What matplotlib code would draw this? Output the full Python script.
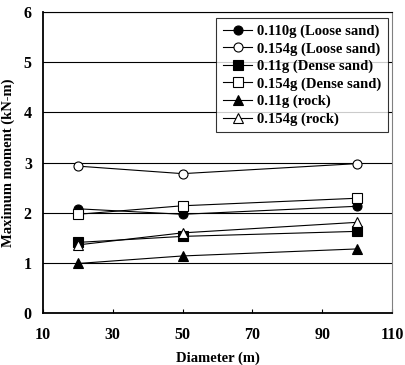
import matplotlib.pyplot as plt

plt.rcParams['font.family'] = ['Liberation Serif', 'DejaVu Serif']
plt.rcParams['font.weight'] = 'bold'

diameter = [20, 50, 100]

loose_110 = [2.08, 1.97, 2.13]
loose_154 = [2.93, 2.78, 2.98]
dense_110 = [1.41, 1.53, 1.63]
dense_154 = [1.97, 2.14, 2.29]
rock_110 = [0.99, 1.14, 1.28]
rock_154 = [1.36, 1.60, 1.81]

labels = ['0.110g (Loose sand)', '0.154g (Loose sand)', '0.11g (Dense sand)',
          '0.154g (Dense sand)', '0.11g (rock)', '0.154g (rock)']
series = [loose_110, loose_154, dense_110, dense_154, rock_110, rock_154]
markers = ['o', 'o', 's', 's', '^', '^']
fills = ['black', 'white', 'black', 'white', 'black', 'white']

fig = plt.figure(figsize=(4.05, 3.65), dpi=100)
ax = fig.add_axes([0.106, 0.142, 0.862, 0.825])

for i in range(6):
    ax.plot(diameter, series[i], color='black', lw=0.8, marker=markers[i],
            markersize=6.5, markerfacecolor=fills[i], markeredgecolor='black',
            markeredgewidth=0.8, label=labels[i], zorder=3)

ax.set_xlim(10, 110)
ax.set_ylim(0, 6)
ax.set_xticks([10, 30, 50, 70, 90, 110])
ax.set_yticks([0, 1, 2, 3, 4, 5, 6])
ax.yaxis.grid(True, color='black', lw=0.8)
ax.set_axisbelow(True)
ax.tick_params(axis='x', direction='in', length=3, labelsize=11.5, pad=10)
ax.tick_params(axis='y', length=0, labelsize=11.5, pad=8)
for s in ['left', 'bottom']:
    ax.spines[s].set_linewidth(1.3)
ax.spines['right'].set_color('gray')
ax.spines['top'].set_linewidth(0.8)

ax.set_xlabel('Diameter (m)', fontsize=10.5, fontweight='bold', labelpad=6)
ax.set_ylabel('Maximum moment (kN-m)', fontsize=10.5, fontweight='bold', labelpad=6)

leg = ax.legend(loc='upper right', bbox_to_anchor=(0.997, 0.99), fontsize=10.5,
                frameon=True, fancybox=False, edgecolor='black', handlelength=2.0,
                labelspacing=0.28, borderpad=0.45, handletextpad=0.35,
                borderaxespad=0.2)
leg.get_frame().set_linewidth(0.8)

fig.savefig('out.png', dpi=100)
